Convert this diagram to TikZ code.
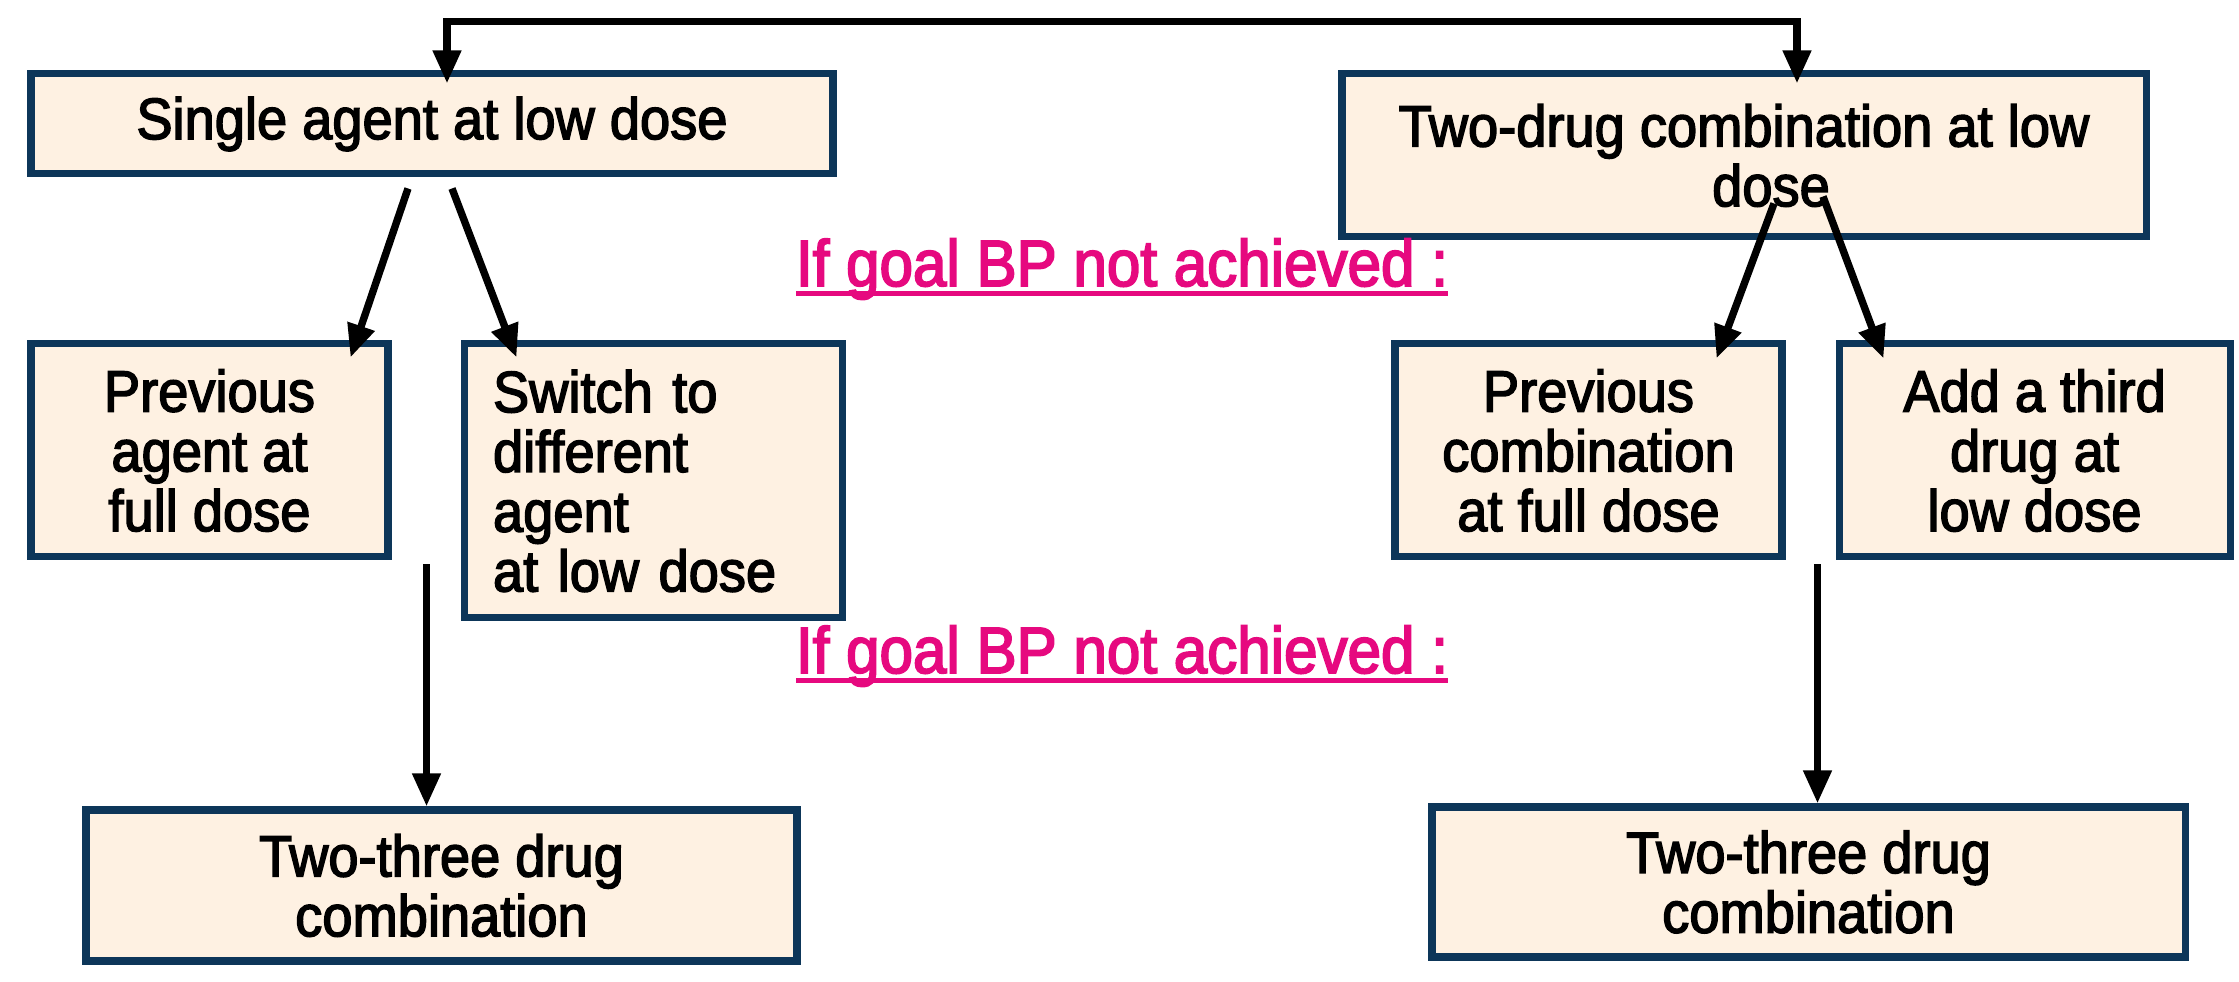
\documentclass[tikz,border=0pt]{standalone}
\usepackage{fontspec}
\setmainfont{Liberation Sans}[FakeStretch=0.93,FakeBold=2.5]
\newfontfamily\goalfont{Liberation Sans}[FakeStretch=0.92,FakeBold=2.8]
\usepackage{xcolor}
\definecolor{navy}{HTML}{0D3659}
\definecolor{peach}{HTML}{FEF1E2}
\definecolor{goalpink}{HTML}{E6097F}
\usetikzlibrary{positioning,arrows.meta}
\newsavebox\goalbox
\newcommand\ulgoal[1]{\sbox\goalbox{#1}\rlap{\rule[-2.8pt]{\wd\goalbox}{1.4pt}}\usebox\goalbox}

\begin{document}
\begin{tikzpicture}[
  box/.style={draw=navy,fill=peach,line width=2pt,inner sep=0pt,align=center,
    font=\fontsize{16.6}{17}\selectfont},
  note/.style={text=goalpink,font=\goalfont\fontsize{18.6}{18.6}\selectfont},
  arr/.style={->,>={Triangle[length=0.33cm,width=0.27cm]},line width=2.1pt,color=black}]
\useasboundingbox (0,0) rectangle (22.39,9.82);
% first step
\node[box,minimum width=8.02cm,minimum height=1.00cm] (single) at (4.32,8.58) {Single agent at low dose};
\node[box,minimum width=8.04cm,minimum height=1.63cm] (twodrug) at (17.44,8.265) {Two-drug combination at low\\\hspace*{0.54cm}dose};
% second step
\node[box,minimum width=3.57cm,minimum height=2.13cm] (prevagent) at (2.095,5.315) {Previous\\agent at\\full dose};
\node[box,minimum width=3.78cm,minimum height=2.74cm,text width=3.2cm,align=left,
  right=0.69cm of prevagent.north east,anchor=north west] (switch) {Switch to\\different\\agent\\at low dose};
\node[box,minimum width=3.87cm,minimum height=2.13cm] (prevcomb) at (15.885,5.315) {Previous\\combination\\at full dose};
\node[box,minimum width=3.91cm,minimum height=2.13cm,
  right=0.50cm of prevcomb.north east,anchor=north west] (third) {Add a third\\drug at\\low dose};
% third step
\node[box,minimum width=7.11cm,minimum height=1.51cm] (multileft) at (4.415,0.965) {Two-three drug\\combination};
\node[box,minimum width=7.53cm,minimum height=1.50cm] (multiright) at (18.085,1.00) {Two-three drug\\combination};
% notes
\node[note,anchor=base] (goalone) at (11.22,6.96) {\ulgoal{If goal BP not achieved :}};
\node[note,anchor=base] (goaltwo) at (11.22,3.09) {\ulgoal{If goal BP not achieved :}};
% connectors
\draw[arr,<->,shorten <=-0.13cm,shorten >=-0.13cm] ([xshift=0.15cm]single.north) -- ++(0,0.49) -| ([xshift=0.53cm]twodrug.north);
\draw[arr] ([xshift=-0.24cm,yshift=-0.11cm]single.south) -- ([xshift=-0.41cm,yshift=-0.17cm]prevagent.north east);
\draw[arr] ([xshift=0.20cm,yshift=-0.11cm]single.south) -- ([xshift=0.56cm,yshift=-0.17cm]switch.north west);
\draw[arr] ([xshift=0.30cm,yshift=0.37cm]twodrug.south) -- ([xshift=-0.69cm,yshift=-0.18cm]prevcomb.north east);
\draw[arr] ([xshift=0.79cm,yshift=0.44cm]twodrug.south) -- ([xshift=0.48cm,yshift=-0.18cm]third.north west);
\coordinate (fromleft) at ([xshift=0.35cm,yshift=-0.04cm]prevagent.south east);
\coordinate (fromright) at ([xshift=0.32cm,yshift=-0.04cm]prevcomb.south east);
\draw[arr] (fromleft) -- (fromleft |- multileft.north);
\draw[arr] (fromright) -- (fromright |- multiright.north);
\end{tikzpicture}
\end{document}
